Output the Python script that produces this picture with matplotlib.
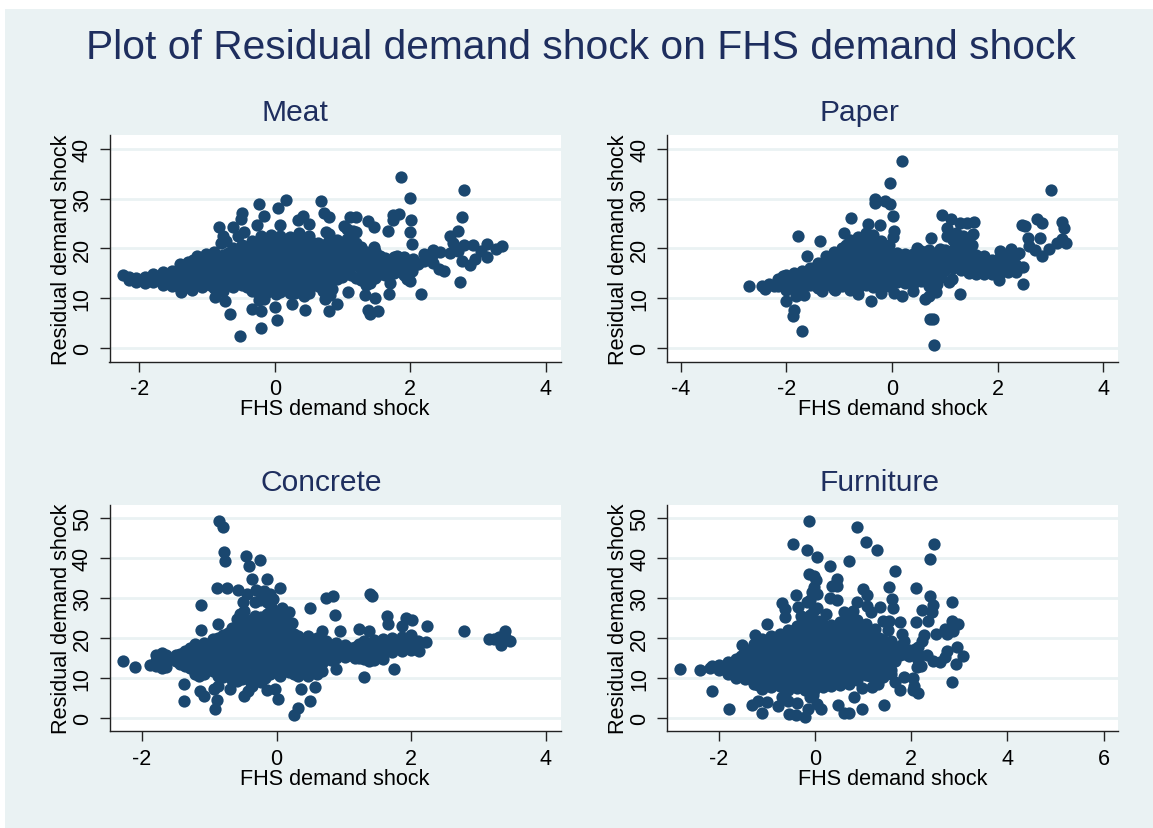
import matplotlib
matplotlib.use("Agg")
import matplotlib.pyplot as plt
from matplotlib.patches import Rectangle

W, H = 1153, 829
BG = "#EAF2F3"
NAVY = "#1A476F"
TITLE_COL = "#1E2E5E"

# scattered points, (x, y)
meat_outer = [
    (1.86,34.3),(2.80,31.7),(0.17,29.8),(0.68,29.6),(1.99,30.1),(-0.23,29.0),(0.04,28.2),(-0.48,27.2),
    (-0.5,26),(-0.16,26.6),(0.72,27.2),(0.8,26.4),(0.42,26.6),(0.34,25.8),(1.83,26.9),(1.75,26.8),
    (1.75,25.7),(2.01,25.7),(2.76,26.4),(1.11,26.4),(1.2,26.4),(1.38,25.6),(1.46,24.3),(1.67,23.5),
    (2.0,23.4),(2.02,20.9),(2.7,23.5),(2.58,22.6),(2.63,21.2),(2.73,13.2),(2.16,10.8),(-0.83,24.4),
    (-0.62,24.4),(0.07,24.8),(-0.26,24.7),(-0.76,22.5),(-0.45,23.4),(1.02,24.5),(0.5,24.9),(0.75,23.4),
    (0.8,23),(1.46,20.3),(-0.52,2.5),(-0.21,4),(0.03,5.7),(-0.67,6.9),(-0.34,7.9),(-0.2,7.4),(0,8.3),
    (0.44,7.6),(0.8,7.5),(0.92,8.8),(0.26,8.8),(-0.23,9.7),(-0.16,9.8),(-0.74,9.5),(-0.89,10.2),
    (1.08,11.3),(1.33,10.7),(1.48,10),(1.38,7.6),(1.4,6.8),(1.53,7.5),(1.68,10.8),(0.74,9.8),(0.43,10.5),
    (0.51,11),(0.82,10.7),(-1.38,11.2),(-1.23,11.6),(2.34,19.7),(2.5,15.5),(2.42,15.9),(2.88,16.7),
    (2.76,17.5),(3.13,18.2),(2.95,17.9),(2.8,20.7),(2.93,20.7),(3.13,20.9),(3.36,20.5),(3.26,19.9),
    (3.04,19.5),(2.71,19.5),(2.58,19.1),(2.44,19.3),(2.22,18.7),(2.11,16.9),(2,13.5),(1.95,13.8),
    (1.7,13),(2.03,15.5),(1.9,15.9),(1.81,18.5),(-0.72,21.5),(-0.8,21.2),(-0.55,22.5),(1.15,23.5),
]
meat_core = [
    (-2.24,[14.7]),(-2.15,[14.2,13.6]),(-2.05,[14,13.2]),(-1.92,[14.2,13]),(-1.8,[14.8,13.2]),
    (-1.65,[15.3,13.8,12.7]),(-1.52,[15.5,13.9,12.4]),(-1.4,[16.8,15,13.4,12]),(-1.28,[17.2,15.4,13.6,12.2]),
    (-1.15,[18.5,16.5,14.6,12.8]),(-1.02,[18.9,17,15,13.2]),(-0.9,[19.2,17.2,15.3,13.5,12]),
    (-0.76,[18.6,16.8,14.8,12.7,11.4]),(-0.62,[20,18,16,14,12.3]),(-0.48,[20.6,18.6,16.4,14.4,12.6]),
    (-0.34,[21.5,19.4,17.4,15.2,13,11.5]),(-0.2,[22.5,20.4,18.2,16,14,12]),(-0.06,[22.8,20.6,18.4,16.2,14,11.8]),
    (0.08,[22.6,20.4,18.2,16,13.8,11.2]),(0.22,[22.3,20.2,18,15.8,13.4,11]),(0.36,[23.2,21,18.8,16.4,14.2,11.7]),
    (0.5,[22.5,20.2,18,15.8,13.5,12]),(0.64,[21,18.8,16.6,14.4,12.4]),(0.78,[21.4,19.2,17,14.8,12.2]),
    (0.92,[21.8,19.6,17.4,15.2,13.8]),(1.06,[24,22,19.8,17.6,15.4]),(1.2,[23.3,21,18.8,16.6,14]),
    (1.34,[19.2,17,15,12.6]),(1.48,[19.5,17.6,15.6,14]),(1.62,[18,16.4,14.6]),(1.76,[18.2,16.6,15]),
    (1.9,[18.2,16.8,14.6]),(2.04,[17.8,16.5]),(2.2,[18.8,17.4]),(2.34,[18.8,17]),
]
meat_fill = [
    (-1.34,[16,14.4,12.8]),(-1.21,[17.6,15.6,13.6]),(-1.08,[18,16,14,12.2]),(-0.96,[18.2,16.2,14.2,12.6]),
    (-0.83,[18,16,13.9,12.2]),(-0.69,[19,17,15,13.2]),(-0.55,[19.4,17.2,15.2,13.3]),(-0.41,[20.2,18.4,16.2,14,12.2]),
    (-0.27,[21.3,19.2,17,15,13,11.3]),(-0.13,[21.6,19.4,17.2,15,13,11]),(0.01,[21.8,19.6,17.4,15.2,13,10.8]),
    (0.15,[21.3,19.2,17,14.8,12.6]),(0.29,[21.6,19.3,17.2,15,12.8,11]),(0.43,[21.9,19.6,17.4,15.2,13,11.4]),
    (0.57,[21.1,19,17,14.8,12.8]),(0.71,[20,17.8,15.6,13.4,11.4]),(0.85,[20.2,18,15.8,13.6,11.8]),
    (0.99,[20.8,18.6,16.4,14.2]),(1.13,[23,20.8,18.8,16.6,14.6]),(1.27,[20.2,18,15.8,13.6]),
    (1.41,[18.4,16.4,14.3,13]),(1.55,[18.4,16.6,14.8]),(1.69,[17.2,15.6]),(1.83,[17.4,15.4]),(1.97,[17,15]),
]

paper_outer = [
    (0.19,37.5),(-0.04,33.1),(3.01,31.8),(-0.33,30),(-0.33,29.2),(-0.13,29.6),(-0.03,29),(0.02,26.6),
    (-0.77,26.1),(-0.46,24.9),(-0.23,24.7),(0.03,23.5),(0.01,22.3),(-0.91,23.2),(-1.77,22.6),(-1.37,21.5),
    (-1.6,18.5),(0.95,26.7),(1.11,25.9),(1.29,25.1),(1.42,25.1),(1.56,25.4),(1.04,24.1),(1.53,22.9),
    (1.04,22.5),(0.74,22.1),(1.22,23.2),(1.35,22.5),(1.51,20.7),(2.47,24.8),(2.52,24.5),(2.75,25.9),
    (2.85,25.2),(3.22,25.4),(3.25,24.1),(2.58,22.1),(2.8,22.1),(3.12,21.2),(3.3,21.1),(3.22,21.9),
    (2.6,20.5),(2.49,12.8),(2.98,19.9),(2.84,18.5),(2.05,19.5),(2.25,19.9),(2.03,13.6),(2.49,16.2),
    (0.79,0.7),(0.72,5.8),(0.77,5.8),(-1.71,3.4),(-1.87,6.4),(-1.85,7.7),(-2.01,9.5),(-0.39,9.5),
    (1.29,10.8),(0.19,10.4),(0.63,9.8),(0.7,10.5),(0.84,11.3),(0.4,11.5),(-0.2,11),(0.03,11),(-0.64,10.8),
    (1.08,13.2),(1.13,13.8),(-1.67,10.6),(-1.82,10.5),(-1.33,11.4),(-1.08,11.7),(-2.71,12.5),(-2.47,12.4),
    (-2.41,11.8),(-2.33,12.8),(-2.24,12.5),(-2.07,14.5),(2.7,19.6),(2.4,19),(0.47,20),(0.9,19.8),(0.7,19.6),
]
paper_core = [
    (-2.15,[13.8,12.4]),(-2.0,[14.6,13,11.6]),(-1.85,[15,13.4,11.8]),(-1.7,[15.4,13.6,12]),
    (-1.55,[16,14.4,12.6]),(-1.4,[17,15.2,13.2,12]),(-1.25,[18.4,16.6,14.6,12.8]),(-1.1,[19.2,17.2,15.2,13.2,11.8]),
    (-0.95,[20,18,16,14,12.4]),(-0.8,[21.8,19.8,17.6,15.4,13.4,11.6]),(-0.65,[22.4,20.4,18.2,16,14,12]),
    (-0.5,[23.2,21,18.8,16.6,14.4,12.6]),(-0.35,[22.8,20.6,18.4,16.2,14,12.2]),(-0.2,[21.6,19.4,17.2,15,13,11.8]),
    (-0.05,[20.6,18.6,16.4,14.4,12.4]),(0.1,[19,17,15,13.2]),(0.25,[18.8,16.8,14.8,13]),(0.4,[18.8,16.8,14.8,12.8]),
    (0.55,[19.5,17.4,15.4,13.4]),(0.7,[18.8,16.8,14.8,12.4]),(0.85,[18.6,16.6,14.6,12.8]),(1.0,[19.6,17.6,15.6]),
    (1.15,[21.8,19.6,17.6,16]),(1.3,[21.6,19.4,17.4,15.6]),(1.45,[21,18.8,16.8,15]),(1.6,[18.6,16.6,14.8]),
    (1.75,[18.4,16.6,14.9]),(1.9,[17.6,16,14.8]),(2.05,[18.2,16.6,15]),(2.2,[18.8,17,15.2]),(2.35,[18.6,16.6,15.2]),
]
paper_fill = [
    (-1.92,[14.2,12.6]),(-1.77,[14.4,12.8]),(-1.62,[15,13.2]),(-1.47,[16,14.2,12.6]),(-1.32,[16.8,14.8,13]),
    (-1.17,[18,16,14,12.6]),(-1.02,[18.6,16.6,14.6,12.8]),(-0.87,[20.6,18.6,16.6,14.6,12.6]),
    (-0.72,[21,19,16.8,14.6,12.8]),(-0.57,[21.8,19.6,17.4,15.2,13.2]),(-0.42,[21.8,19.6,17.4,15.2,13.2]),
    (-0.27,[20.8,18.4,16.2,14,12.4]),(-0.12,[19.6,17.6,15.4,13.4]),(0.03,[17.8,15.8,13.8]),(0.18,[17.8,15.8,13.8]),
    (0.33,[17.8,15.8,13.8]),(0.48,[18.4,16.4,14.4]),(0.62,[17.8,15.8,13.6]),(0.78,[17.6,15.6,13.6]),(0.93,[18,16.2,14.2]),
    (1.08,[18.6,16.6]),(1.22,[20.6,18.4,16.6]),(1.38,[20.2,18,16.2]),(1.52,[17.8,15.6]),(1.68,[17.6,15.6]),
    (1.83,[17,15.4]),(1.98,[17.4,15.8]),(2.13,[17.8,16]),(2.28,[17.6,16]),
]

concrete_outer = [
    (-0.85,49.4),(-0.8,47.9),(-0.79,41.4),(-0.77,39.2),(-0.46,40.6),(-0.25,39.5),(-0.41,37.9),(-0.36,34.7),
    (-0.15,34.7),(0.05,32.5),(-0.89,32.4),(-0.74,32.4),(-0.58,32),(-0.31,31.9),(-0.19,31.7),(-0.44,31),
    (0.73,30),(0.84,30.5),(1.38,30.9),(1.41,30.6),(-1.12,28.3),(-0.06,29.8),(-0.5,28.9),(-0.32,28.9),
    (-0.15,28.9),(-0.08,27.8),(0.49,27.4),(0.08,27.5),(0.18,26.4),(0.87,25.8),(1.64,25.6),(1.66,23.5),
    (1.92,24.9),(2.01,24.4),(1.86,23.1),(2.24,23.1),(1.23,22.2),(1.37,21.7),(0.94,21.7),(0.67,21.7),
    (2.78,21.6),(3.39,21.7),(3.46,19.3),(3.34,18.2),(3.15,19.7),(3.23,19.7),(3.31,20.2),(3.39,20.2),
    (0.23,23.7),(-0.87,23.5),(-1.12,22),(-0.48,26.8),(-0.59,24.8),(-0.54,26),(-0.32,25.6),(-0.15,26),
    (0.01,25.8),(0.12,25),(-0.25,29.6),(-0.1,31),(0.25,.6),(0.32,2.4),(-0.91,2.3),(-0.89,4.4),(-1.37,4.3),
    (-1.38,8.4),(-1.14,6.8),(-1.08,5.5),(-0.93,7.2),(-0.87,8),(-0.7,7.2),(-0.48,5.4),(-0.43,6.8),(-0.37,8),
    (-0.14,6.9),(-0.02,7.3),(0.02,4.6),(0.36,7.1),(0.57,7.8),(0.49,4.3),(1.3,10.2),(1.74,12.2),(0.88,12.2),
    (1.58,14.7),(0.05,10.5),(-0.59,9.3),(-2.29,14.2),(-2.1,12.6),(-1.88,13.2),(-1.7,12.4),(-1.8,15.6),
    (-1.71,16.1),(2.12,16.6),(2.22,19),(2.1,19.1),
]
concrete_core = [
    (-1.8,[14.2,13]),(-1.65,[15.6,14,12.8]),(-1.5,[15.8,14.2]),(-1.36,[16.8,14.6,13]),
    (-1.22,[18.4,15.8,13.2,11]),(-1.08,[18.8,16.2,13.6,11]),(-0.94,[19.6,17,14.4,11.8]),
    (-0.8,[20.6,18,15.4,12.8,10.2]),(-0.66,[22.4,19.8,17.2,14.4,11.8,9.4]),(-0.52,[23.6,21,18.2,15.4,12.6,9.8]),
    (-0.38,[24.6,22,19.2,16.4,13.6,10.8,8.8]),(-0.24,[25.2,22.4,19.6,16.8,14,11.2,9]),(-0.1,[25,22.2,19.4,16.6,13.8,11]),
    (0.04,[24.6,22,19.2,16.4,13.6,11]),(0.18,[22.6,20,17.2,14.4,11.4]),(0.32,[20.4,17.8,15.2,12.6,10.4]),
    (0.46,[20.4,17.8,15.2,12.6,10.4]),(0.6,[20,17.6,15,12.2,11]),(0.74,[19.2,17,14.8]),(0.88,[18.8,16.8,15]),
    (1.02,[18.2,16.4,15.2]),(1.16,[17.8,16.2,15]),(1.3,[19.2,17,14.6]),(1.44,[19.4,17.2,14.4]),(1.58,[19.6,17.6,16]),
    (1.72,[20,18.2,16.4]),(1.86,[20.2,18.4,16.6]),(2.0,[20.6,18.8,17]),
]
concrete_fill = [
    (-1.43,[16,14,13.4]),(-1.29,[17.4,14.8,12.4]),(-1.15,[17.4,14.8,12.2,10.4]),(-1.01,[18.2,15.4,12.8]),
    (-0.87,[20,17.4,14.8,12.2,10.4]),(-0.73,[21.2,18.8,16.2,13.6,11]),(-0.59,[23,20.4,17.8,15,12.2,10]),
    (-0.45,[24.2,21.6,18.8,16,13.2,10.4]),(-0.31,[23.8,21,18.2,15.4,12.6,10]),(-0.17,[23.8,21,18.2,15.4,12.6,10]),
    (-0.03,[23.6,20.8,18,15.2,12.4]),(0.11,[23.6,21,18.2,15.6,12.8]),(0.25,[21,18.6,16,13.4,11]),
    (0.39,[19.2,16.6,14,11.6]),(0.53,[19.2,16.6,14,11.6]),(0.67,[18.8,16.4,13.8,11.6]),(0.81,[18.2,16,14.4]),
    (0.95,[17.6,16]),(1.09,[17.4,15.6]),(1.23,[18.4,16.2,15]),(1.37,[18.2,16,14.2]),(1.51,[18.4,16.4]),
    (1.65,[18.8,17]),(1.79,[19.2,17.4]),(1.93,[19.6,17.6]),(2.07,[18.6,17.2]),
]

furniture_outer = [
    (-0.12,49.2),(0.87,47.9),(-0.45,43.6),(-0.17,42.1),(1.05,44.1),(1.29,42),(2.48,43.5),(2.39,39.8),
    (0.04,40.3),(0.3,38),(0.7,39.2),(1.66,36.8),(-0.12,36),(-0.02,35.6),(0.02,34.6),(0.45,34.7),(0.36,32.9),
    (0.46,33.1),(1.54,32.8),(2.1,32.4),(1,32.3),(1.08,30.8),(-0.02,32.7),(-0.06,31.4),(0.05,30.9),(-0.4,30.7),
    (0.32,29.9),(0.46,29.5),(1.6,29.8),(2.4,30.4),(2.84,29.1),(-0.68,28.8),(-0.63,27.3),(0.87,29.1),(1.08,28.1),
    (1.35,27.8),(1.62,27.5),(1.17,26.6),(2.45,28.3),(2.22,27),(2.43,26.4),(-0.35,27.7),(-0.29,25.6),(-0.63,25.3),
    (-0.17,28.9),(0.22,26.1),(0.61,26.4),(0.78,26.8),(1.42,24.3),(1.54,24.2),(1.77,23.9),(2.1,24),(2.35,24.2),
    (2.84,24.2),(2.97,23.6),(-0.99,23.5),(1.51,22.1),(-1.25,20.7),(-1.51,18.2),(2.87,21.8),(2.71,22.2),(2.52,21),
    (2.26,20.6),(2.75,21),(1.8,21),(1.84,19.3),(2.22,19.3),(2.96,17.6),(3.07,15.4),(2.94,13.5),(2.84,9),(2.75,16.6),
    (2.6,13.9),(2.45,14.3),(2.71,15.1),(2.33,15.6),(2.07,17.2),(1.88,16),(2.11,12.6),(2.2,12.9),(1.84,10.3),
    (2.03,9.9),(1.67,9),(1.77,6.9),(2.03,7),(2.14,6.1),(2.05,8),(1.44,3.3),(0.97,2.2),(0.8,5.1),(0.47,3.3),(0.61,1.2),
    (0.7,1.3),(0.13,2.2),(0.05,3.4),(-0.1,5.1),(-0.21,0.1),(-0.14,2.3),(-0.4,0.7),(-0.54,0.9),(-0.37,3.8),(-0.56,4.3),
    (-0.68,5.1),(-0.78,3),(-1.01,4),(-1.32,3.2),(-1.1,1.1),(-1.79,2.1),(-2.15,6.8),(-2.8,12.1),(-2.4,11.9),(-2.19,12.4),
    (-2.14,13),(0.97,7.4),(1.19,7.6),(1.31,8.4),(-1.18,4.3),(-0.05,5.8),(0.03,27.5),(-0.1,29.5),
]
furniture_core = [
    (-2.0,[13.2,12]),(-1.82,[14,12.4,11]),(-1.64,[14.6,12.4,10]),(-1.46,[16.6,14.2,11.8,9.6]),
    (-1.28,[18.4,15.8,13.2,10.6,8.4]),(-1.1,[19.6,17,14.4,11.8,9.2,7.2]),(-0.92,[20.4,17.8,15.2,12.6,10,7.6]),
    (-0.74,[21,18.4,15.8,13.2,10.6,8]),(-0.56,[22,19.4,16.8,14.2,11.6,9,7]),(-0.38,[23,20.4,17.8,15.2,12.6,10,7.4]),
    (-0.2,[25,22.4,19.8,17.2,14.6,12,9.4,7]),(-0.02,[27,24.4,21.8,19.2,16.6,14,11.4,8.8,7]),(0.16,[23.4,20.8,18.2,15.6,13,10.4,7.8]),
    (0.34,[23.2,20.6,18,15.4,12.8,10.2,8]),(0.52,[24,21.4,18.8,16.2,13.6,11,8.2]),(0.7,[24.4,21.8,19.2,16.6,14,11.4,8.4]),
    (0.88,[24.4,21.8,19.2,16.6,14,11.4,9.4]),(1.06,[23.6,21,18.4,15.8,13.2,10.6]),(1.24,[22.2,19.6,17,14.4,11.8,9.4]),
    (1.42,[19.4,17,14.6,12.2,10.2]),(1.58,[19.2,16.8,14.4,12,11]),(1.76,[18,15.8,17.2]),(1.95,[17,15.4]),(2.15,[17.8,16,14.4]),
]
furniture_fill = [
    (-1.73,[13.2,11]),(-1.55,[15.4,13,11]),(-1.37,[17,14.6,12.2,10]),(-1.19,[18.2,15.6,13,10.4,8.2]),
    (-1.01,[19,16.4,13.8,11.2,8.6]),(-0.83,[19.2,16.6,14,11.4,8.8]),(-0.65,[20.6,18,15.4,12.8,10.2,8]),
    (-0.47,[21.6,19,16.4,13.8,11.2,8.6]),(-0.29,[23.6,21,18.4,15.8,13.2,10.6,8.2]),(-0.11,[25.8,23.2,20.6,18,15.4,12.8,10.2,8]),
    (0.07,[24.2,21.6,19,16.4,13.8,11.2,8.6]),(0.25,[22,19.4,16.8,14.2,11.6,9]),(0.43,[22.6,20,17.4,14.8,12.2,9.4]),
    (0.61,[23,20.4,17.8,15.2,12.6,9.8]),(0.79,[23,20.4,17.8,15.2,12.6,10]),(0.97,[22.4,19.8,17.2,14.6,12]),
    (1.15,[21,18.2,15.6,13,10.4]),(1.33,[20,17.6,15,12.6,10.8]),(1.5,[18.2,15.8,13.4,11.4]),(1.67,[17.6,15.6,14.2]),
]

# title, outer points, two sets of core columns, ticks, limits, axes box in px, title pos in px
panels = [
    ("Meat", meat_outer, meat_core, meat_fill, [-2,0,2,4], [0,10,20,30,40], (-2.443,4.219), (-2.75,42.8), (109.5,136,560.5,362.7), 261, 113),
    ("Paper", paper_outer, paper_core, paper_fill, [-4,-2,0,2,4], [0,10,20,30,40], (-4.26,4.28), (-2.75,42.8), (667,136,1118,362.7), 819, 113),
    ("Concrete", concrete_outer, concrete_core, concrete_fill, [-2,0,2,4], [0,10,20,30,40,50], (-2.484,4.217), (-3.41,53.3), (109.5,506,560.5,732.3), 261, 483),
    ("Furniture", furniture_outer, furniture_core, furniture_fill, [-2,0,2,4,6], [0,10,20,30,40,50], (-3.08,6.3), (-3.41,53.3), (667,506,1118,732.3), 819, 483),
]

plt.rcParams["font.family"] = ["Liberation Sans", "DejaVu Sans"]

fig = plt.figure(figsize=(W / 100, H / 100), dpi=100, facecolor="white")
fig.patches.append(Rectangle((5 / W, 0), (W - 5) / W, (H - 10) / H, transform=fig.transFigure, facecolor=BG, edgecolor="none", zorder=-10))
fig.text(581 / W, 1 - 48 / H, "Plot of Residual demand shock on FHS demand shock", fontsize=29.3, color=TITLE_COL, ha="center", va="center")

for name, outer, core, fill, xt, yt, xl, yl, box, tx, ty in panels:
    x0, y0, x1, y1 = box
    ax = fig.add_axes([x0 / W, 1 - y1 / H, (x1 - x0) / W, (y1 - y0) / H])
    ax.set_facecolor("white")

    cols = core + fill
    xs = [p[0] for p in outer] + [c[0] for c in cols for _ in c[1]]
    ys = [p[1] for p in outer] + [v for c in cols for v in c[1]]
    ax.scatter(xs, ys, s=78, color=NAVY, linewidths=0, zorder=3, clip_on=False)

    ax.set_xlim(xl)
    ax.set_ylim(yl)
    ax.set_xticks(xt)
    ax.set_yticks(yt)
    ax.tick_params(axis="both", length=7, width=1, color="#222222", labelsize=15.5, labelcolor="black", pad=5)
    for lab in ax.get_yticklabels():
        lab.set_rotation(90)
        lab.set_va("center")
    ax.set_xticklabels([str(t) for t in xt])

    ax.grid(axis="y", color=BG, linewidth=2)
    ax.set_axisbelow(True)
    for s in ["top", "right"]:
        ax.spines[s].set_visible(False)
    for s in ["left", "bottom"]:
        ax.spines[s].set_linewidth(1)
        ax.spines[s].set_color("#222222")

    ax.set_xlabel("FHS demand shock", fontsize=15.6, labelpad=-1)
    ax.set_ylabel("Residual demand shock", fontsize=15.6, labelpad=0)
    fig.text(tx / W, 1 - ty / H, name, fontsize=21.6, color=TITLE_COL, ha="left", va="center")

fig.savefig("out.png", dpi=100, facecolor="white")
